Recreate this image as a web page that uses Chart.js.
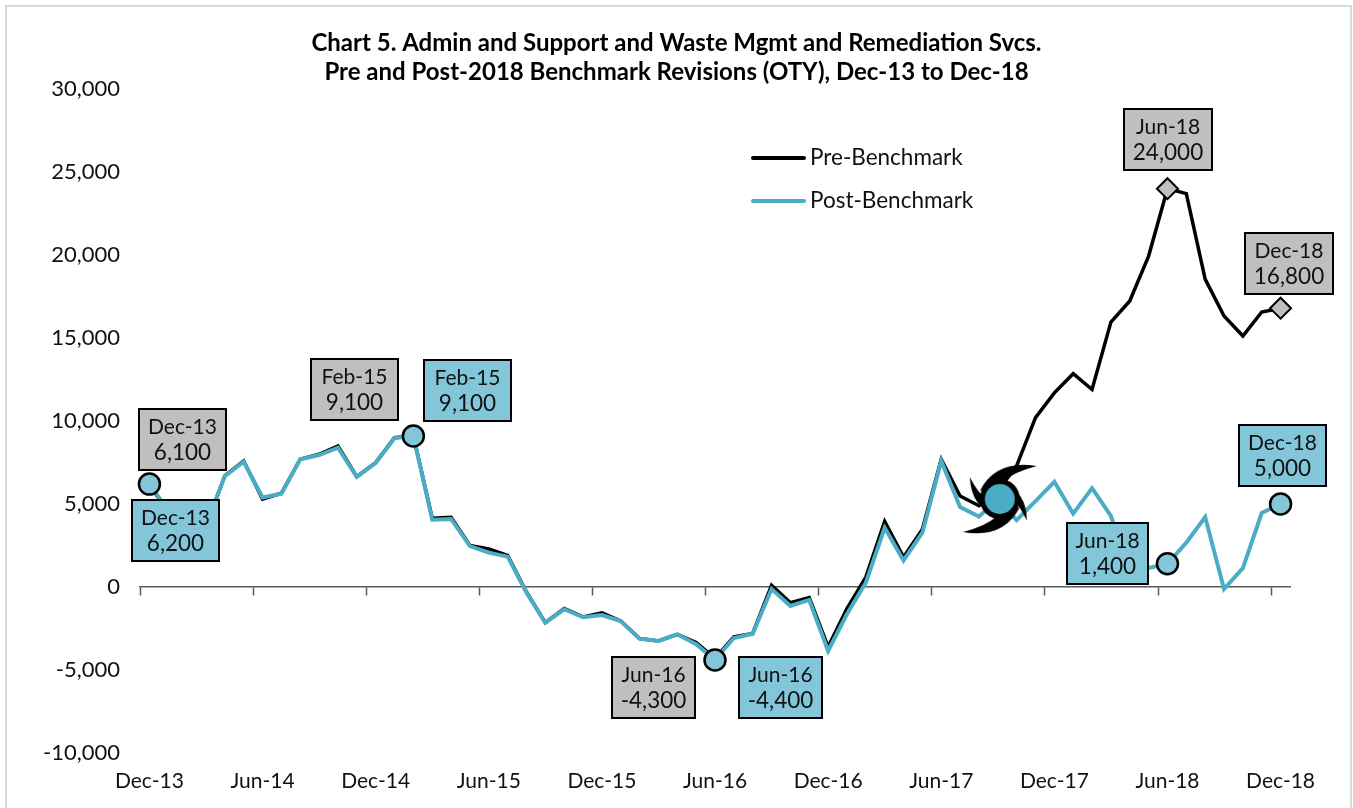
<!DOCTYPE html>
<html>
<head>
<meta charset="utf-8">
<title>Chart 5</title>
<script src="https://cdn.jsdelivr.net/npm/chart.js@4"></script>
<style>
  html, body { margin: 0; padding: 0; background: #fff; overflow: hidden; }
  canvas { display: block; }
</style>
</head>
<body>
<canvas id="chart5" width="1353" height="808"></canvas>
<script>
// ===== data =====
const months = [
  'Dec-13','Jan-14','Feb-14','Mar-14','Apr-14','May-14','Jun-14','Jul-14','Aug-14','Sep-14','Oct-14','Nov-14',
  'Dec-14','Jan-15','Feb-15','Mar-15','Apr-15','May-15','Jun-15','Jul-15','Aug-15','Sep-15','Oct-15','Nov-15',
  'Dec-15','Jan-16','Feb-16','Mar-16','Apr-16','May-16','Jun-16','Jul-16','Aug-16','Sep-16','Oct-16','Nov-16',
  'Dec-16','Jan-17','Feb-17','Mar-17','Apr-17','May-17','Jun-17','Jul-17','Aug-17','Sep-17','Oct-17','Nov-17',
  'Dec-17','Jan-18','Feb-18','Mar-18','Apr-18','May-18','Jun-18','Jul-18','Aug-18','Sep-18','Oct-18','Nov-18',
  'Dec-18'
];

const preBenchmark = [
  6100, 4600, 4400, 3700, 6700, 7600, 5300, 5650, 7700, 8000, 8500, 6650,
  7500, 9000, 9100, 4150, 4200, 2500, 2300, 1900, -300, -2150, -1300, -1800,
  -1550, -2050, -3100, -3250, -2850, -3350, -4300, -3000, -2800, 100, -950, -640,
  -3600, -1300, 600, 3950, 1800, 3480, 7700, 5480, 4900, 5800, 7300, 10200,
  11700, 12850, 11900, 15960, 17230, 19940, 24000, 23700, 18550, 16330, 15120, 16570,
  16800
];

const postBenchmark = [
  6200, 4600, 4400, 3700, 6680, 7550, 5400, 5620, 7700, 7950, 8400, 6630,
  7470, 8970, 9100, 4050, 4100, 2470, 2070, 1830, -340, -2150, -1340, -1820,
  -1690, -2050, -3110, -3250, -2850, -3450, -4400, -3070, -2810, -120, -1140, -780,
  -3850, -1630, 260, 3570, 1600, 3270, 7600, 4820, 4240, 5300, 4030, 5180,
  6340, 4420, 5960, 4280, 1000, 1150, 1400, 2670, 4220, -120, 1140, 4460,
  5000
];

const yTicks = [-10000, -5000, 0, 5000, 10000, 15000, 20000, 25000, 30000];
const titleLines = [
  'Chart 5. Admin and Support and Waste Mgmt and Remediation Svcs.',
  'Pre and Post-2018 Benchmark Revisions (OTY), Dec-13 to Dec-18'
];
const preMarked = ['Jun-18', 'Dec-18'];
const postMarked = ['Dec-13', 'Feb-15', 'Jun-16', 'Jun-18', 'Dec-18'];
const hurricane = [{ x: 'Sep-17', y: 5300 }];

// ===== styles =====
const FONT = 'Lato';
const TXT = '#111';
const PRE_COLOR = '#000000';
const POST_COLOR = '#4BACC6';
const POST_FILL = '#83C6D9';
const PRE_FILL = '#BFBFBF';

const fmt = v => v.toLocaleString('en-US');

// callout placement, relative to the marked point
const callouts = [
  { series: 0, month: 'Dec-13', dx: -10, dy: -77, w: 87 },
  { series: 1, month: 'Dec-13', dx: -17, dy: 16, w: 87 },
  { series: 0, month: 'Feb-15', dx: -102, dy: -77, w: 87 },
  { series: 1, month: 'Feb-15', dx: 11, dy: -76, w: 87 },
  { series: 0, month: 'Jun-16', dx: -103, dy: -1, w: 83 },
  { series: 1, month: 'Jun-16', dx: 24, dy: -3, w: 83 },
  { series: 1, month: 'Jun-18', dx: -100, dy: -41, w: 81 },
  { series: 1, month: 'Dec-18', dx: -42, dy: -79, w: 87 },
  { series: 0, month: 'Jun-18', dx: -43, dy: -80, w: 88 },
  { series: 0, month: 'Dec-18', dx: -36, dy: -75, w: 88 }
];

// hurricane marker, drawn once and used as a point style
function makeHurricane() {
  const c = document.createElement('canvas');
  c.width = 90;
  c.height = 90;
  const g = c.getContext('2d');
  g.translate(47, 45);
  g.fillStyle = '#000';
  [[0, 1], [Math.PI, 1], [-1.78, 0.75], [1.41, 0.7]].forEach(([rot, s]) => {
    g.save();
    g.rotate(rot);
    g.scale(s, s);
    g.beginPath();
    g.moveTo(-20, -8);
    g.quadraticCurveTo(-4, -40, 37, -33);
    g.quadraticCurveTo(14, -27, 4, -18);
    g.closePath();
    g.fill();
    g.restore();
  });
  g.beginPath();
  g.arc(0, 0, 20, 0, Math.PI * 2);
  g.fill();
  g.fillStyle = POST_COLOR;
  g.beginPath();
  g.arc(0, 0, 15, 0, Math.PI * 2);
  g.fill();
  return c;
}

const framePlugin = {
  id: 'frame',
  beforeDraw(chart) {
    const ctx = chart.ctx;
    ctx.save();
    ctx.strokeStyle = '#D9D9D9';
    ctx.lineWidth = 2;
    ctx.strokeRect(6, 6, 1345, 900);
    ctx.restore();
  }
};

const calloutPlugin = {
  id: 'callouts',
  afterDatasetsDraw(chart) {
    const ctx = chart.ctx;
    const xs = chart.scales.x;
    const ys = chart.scales.y;
    ctx.save();
    callouts.forEach(c => {
      const values = c.series === 0 ? preBenchmark : postBenchmark;
      const v = values[months.indexOf(c.month)];
      const left = Math.round(xs.getPixelForValue(months.indexOf(c.month)) + c.dx);
      const top = Math.round(ys.getPixelForValue(v) + c.dy);
      ctx.fillStyle = c.series === 0 ? PRE_FILL : POST_FILL;
      ctx.strokeStyle = '#000';
      ctx.lineWidth = 2;
      ctx.fillRect(left, top, c.w, 61);
      ctx.strokeRect(left, top, c.w, 61);
      ctx.fillStyle = TXT;
      ctx.textAlign = 'center';
      ctx.textBaseline = 'middle';
      ctx.font = '21px ' + FONT;
      ctx.fillText(c.month, left + c.w / 2, top + 18);
      ctx.font = '22.5px ' + FONT;
      ctx.fillText(fmt(v), left + c.w / 2, top + 44);
    });
    ctx.restore();
  }
};

// legend sits inside the plot in the reference
const legendPlugin = {
  id: 'innerLegend',
  afterDraw(chart) {
    const ctx = chart.ctx;
    ctx.save();
    ctx.font = '22.5px ' + FONT;
    ctx.textAlign = 'left';
    ctx.textBaseline = 'middle';
    [158, 201].forEach((y, i) => {
      const ds = chart.data.datasets[i];
      ctx.strokeStyle = ds.borderColor;
      ctx.lineWidth = 4;
      ctx.lineCap = 'round';
      ctx.beginPath();
      ctx.moveTo(753, y);
      ctx.lineTo(804, y);
      ctx.stroke();
      ctx.fillStyle = TXT;
      ctx.fillText(ds.label, 810, y);
    });
    ctx.restore();
  }
};

new Chart(document.getElementById('chart5'), {
  type: 'line',
  data: {
    labels: months,
    datasets: [
      {
        label: 'Pre-Benchmark',
        data: preBenchmark,
        order: 2,
        borderColor: PRE_COLOR,
        borderWidth: 3.5,
        tension: 0,
        pointStyle: 'rectRot',
        pointRadius: ctx => preMarked.includes(months[ctx.dataIndex]) ? 10.5 : 0,
        pointBackgroundColor: PRE_FILL,
        pointBorderColor: '#000',
        pointBorderWidth: 2
      },
      {
        label: 'Post-Benchmark',
        data: postBenchmark,
        order: 1,
        borderColor: POST_COLOR,
        borderWidth: 4,
        tension: 0,
        pointStyle: 'circle',
        pointRadius: ctx => postMarked.includes(months[ctx.dataIndex]) ? 10.5 : 0,
        pointBackgroundColor: POST_FILL,
        pointBorderColor: '#000',
        pointBorderWidth: 2.5
      },
      {
        label: 'Hurricane',
        data: hurricane,
        order: 0,
        showLine: false,
        pointStyle: makeHurricane(),
        pointRadius: 20
      }
    ]
  },
  options: {
    responsive: false,
    animation: false,
    // even padding keeps the title centred on the page
    layout: { padding: { left: 30, right: 30, top: 29, bottom: 0 } },
    plugins: {
      legend: { display: false },
      tooltip: { enabled: false },
      title: {
        display: true,
        text: titleLines,
        color: '#000',
        font: { family: FONT, size: 24, weight: 'bold', lineHeight: 1.21 },
        padding: { top: 0, bottom: 2 }
      }
    },
    scales: {
      // the axis line and its ticks cross at zero, labels stay at the bottom
      x: {
        type: 'category',
        position: { y: 0 },
        offset: true,
        border: { display: true, color: '#595959', width: 1.5 },
        grid: {
          offset: true,
          drawOnChartArea: false,
          drawTicks: true,
          tickLength: 8,
          tickWidth: 1.5,
          tickColor: ctx => ctx.index % 6 === 0 ? '#595959' : 'rgba(0,0,0,0)'
        },
        ticks: { display: false, autoSkip: false }
      },
      xLabels: {
        type: 'category',
        axis: 'x',
        labels: months,
        position: 'bottom',
        offset: true,
        border: { display: false },
        grid: { display: false, drawTicks: false },
        ticks: {
          autoSkip: false,
          maxRotation: 0,
          padding: 16,
          color: TXT,
          font: { family: FONT, size: 21 },
          callback: (v, i) => i % 6 === 0 ? months[i] : ''
        },
        afterFit(scale) { scale.height = 55; }
      },
      y: {
        min: -10000,
        max: 30000,
        border: { display: false },
        grid: { display: false, drawTicks: false },
        afterBuildTicks(scale) { scale.ticks = yTicks.map(value => ({ value })); },
        ticks: {
          padding: 20,
          color: TXT,
          font: { family: FONT, size: 22 },
          callback: v => fmt(v)
        },
        afterFit(scale) { scale.width = 110; }
      },
      // empty axis, only holds the gap right of the plot
      ySpacer: {
        axis: 'y',
        position: 'right',
        min: -10000,
        max: 30000,
        border: { display: false },
        grid: { display: false, drawTicks: false },
        ticks: { display: false },
        afterFit(scale) { scale.width = 33; }
      }
    }
  },
  plugins: [framePlugin, calloutPlugin, legendPlugin]
});
</script>
</body>
</html>
